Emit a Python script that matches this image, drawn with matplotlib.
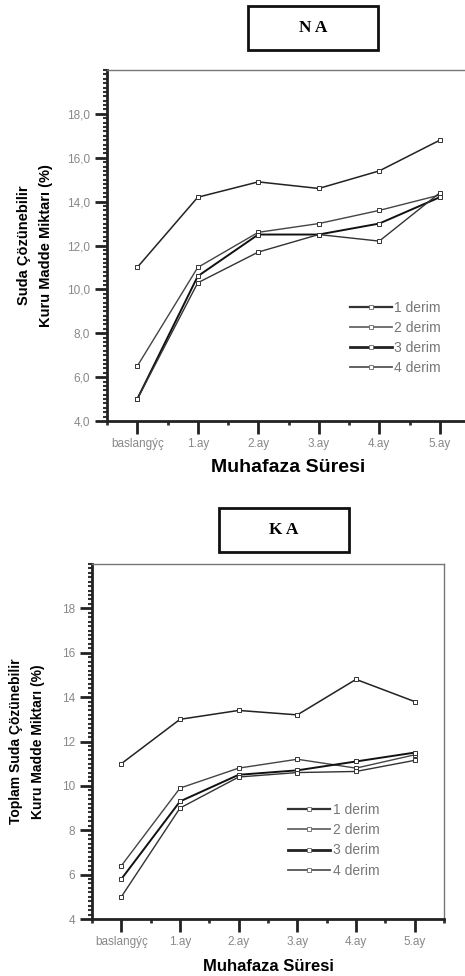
import matplotlib
matplotlib.use("Agg")
import matplotlib.pyplot as plt
from matplotlib.patches import Rectangle
from matplotlib.ticker import MultipleLocator, FuncFormatter

plt.rcParams['font.family'] = ['Liberation Sans', 'DejaVu Sans']

months = ["baslangýç", "1.ay", "2.ay", "3.ay", "4.ay", "5.ay"]
labels = ["1 derim", "2 derim", "3 derim", "4 derim"]

# NA panel
na_1 = [11.0, 14.2, 14.9, 14.6, 15.4, 16.8]
na_2 = [6.5, 11.0, 12.6, 13.0, 13.6, 14.3]
na_3 = [5.0, 10.6, 12.5, 12.5, 13.0, 14.2]
na_4 = [5.0, 10.3, 11.7, 12.5, 12.2, 14.4]

# KA panel
ka_1 = [11.0, 13.0, 13.4, 13.2, 14.8, 13.8]
ka_2 = [6.4, 9.9, 10.8, 11.2, 10.8, 11.4]
ka_3 = [5.8, 9.3, 10.5, 10.7, 11.1, 11.5]
ka_4 = [5.0, 9.0, 10.4, 10.6, 10.65, 11.15]

W, H = 465, 976
fig = plt.figure(figsize=(W / 100, H / 100), dpi=100)

def px_axes(l, t, r, b):
    return fig.add_axes([l / W, 1 - b / H, (r - l) / W, (b - t) / H])

styles = [dict(color='#222222', lw=1.1), dict(color='#444444', lw=1.0),
          dict(color='#111111', lw=1.4), dict(color='#333333', lw=1.0)]
leg_styles = [dict(color='#333333', lw=1.6), dict(color='#666666', lw=1.3),
              dict(color='#222222', lw=2.0), dict(color='#555555', lw=1.3)]

def setup(ax, series, fmt, leg_anchor, tick_fs):
    x = list(range(len(months)))
    lines = []
    for s, st in zip(series, styles):
        ax.plot(x, s, marker='s', ms=2.5, mfc='white', mec='#333333', mew=0.7, **st)
    for st, lab in zip(leg_styles, labels):
        l, = ax.plot([], [], marker='s', ms=2.5, mfc='white', mec='#666666', mew=0.6,
                     label=lab, **st)
        lines.append(l)
    ax.set_xlim(-0.5, 5.5)
    ax.set_ylim(4, 20)
    ax.set_xticks(x)
    ax.set_xticklabels(months)
    ax.xaxis.set_minor_locator(MultipleLocator(0.5))
    ax.set_yticks([4, 6, 8, 10, 12, 14, 16, 18])
    ax.yaxis.set_major_formatter(FuncFormatter(fmt))
    ax.yaxis.set_minor_locator(MultipleLocator(0.2))
    ax.tick_params(axis='both', which='major', direction='out', length=9, width=2,
                   color='#222222', labelsize=tick_fs, labelcolor='#888888', pad=3)
    ax.tick_params(axis='y', which='minor', direction='out', length=3, width=1.5,
                   color='#333333')
    ax.tick_params(axis='x', which='minor', direction='out', length=3, width=2,
                   color='#333333')
    for sp in ['left', 'bottom']:
        ax.spines[sp].set_linewidth(2)
        ax.spines[sp].set_color('#222222')
    for sp in ['top', 'right']:
        ax.spines[sp].set_linewidth(1)
        ax.spines[sp].set_color('#777777')
    ax.legend(handles=lines, loc='upper left', bbox_to_anchor=leg_anchor, frameon=False,
              borderpad=0, borderaxespad=0, handlelength=3.0, handletextpad=0.2,
              labelspacing=0.45, fontsize=10, labelcolor='#777777')

ax1 = px_axes(107, 70, 470, 421)
setup(ax1, [na_1, na_2, na_3, na_4], lambda v, p: f"{v:.1f}".replace('.', ','),
      (0.669, 0.343), 8.5)
ax1.set_ylabel("Suda Çözünebilir\nKuru Madde Miktarı (%)", fontsize=10.5,
               fontweight='bold', labelpad=10, linespacing=1.75)
ax1.set_xlabel("Muhafaza Süresi", fontsize=14, fontweight='bold', labelpad=7)

ax2 = px_axes(92, 564, 444, 919)
setup(ax2, [ka_1, ka_2, ka_3, ka_4], lambda v, p: f"{v:.0f}", (0.557, 0.327), 8.5)
ax2.set_ylabel("Toplam Suda Çözünebilir\nKuru Madde Miktarı (%)", fontsize=10,
               fontweight='bold', labelpad=12, linespacing=1.75)
ax2.set_xlabel("Muhafaza Süresi", fontsize=12, fontweight='bold', labelpad=8)

def title_box(l, t, r, b, txt):
    fig.patches.append(Rectangle((l / W, 1 - b / H), (r - l) / W, (b - t) / H,
                                 transform=fig.transFigure, fill=False,
                                 edgecolor='#111111', lw=2))
    fig.text((l + r) / 2 / W, 1 - (t + b) / 2 / H, txt, ha='center', va='center',
             fontsize=12.5, fontweight='bold', family=['Liberation Serif', 'DejaVu Serif'])

title_box(248, 6, 378, 50, "N A")
title_box(219, 508, 349, 552, "K A")

fig.savefig("out.png", dpi=100)
